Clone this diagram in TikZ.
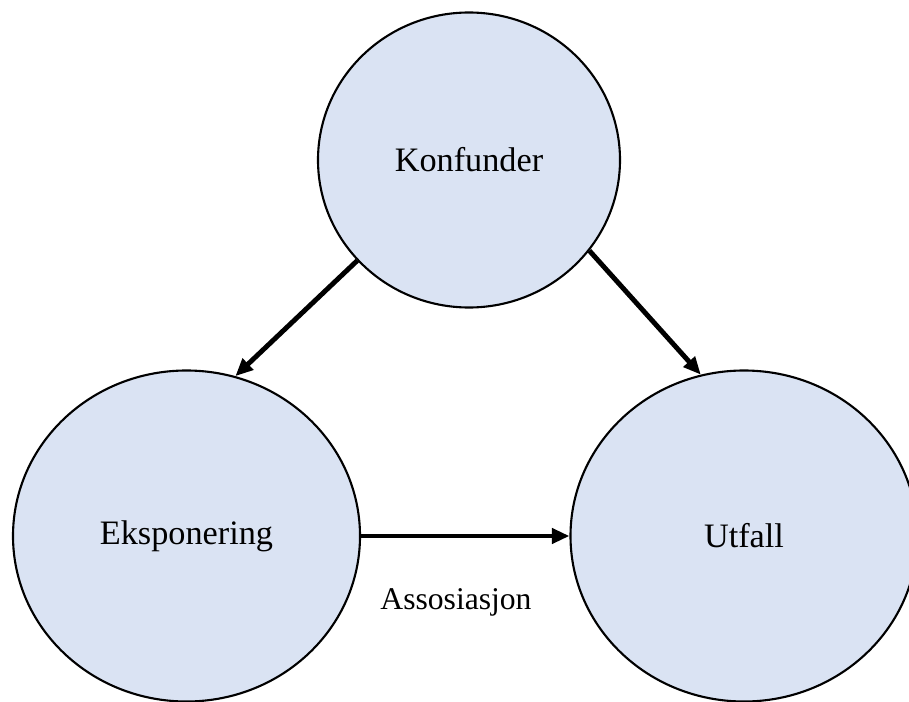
\documentclass[tikz,border=0pt]{standalone}
\usepackage{fontspec}
\setmainfont{Liberation Serif}
\usetikzlibrary{arrows.meta,shapes.geometric}
\definecolor{nodefill}{RGB}{218,227,243}

\begin{document}
\begin{tikzpicture}[
        x={(0.02cm,0cm)},
        y={(0cm,-0.02cm)},
        var/.style={ellipse, draw, fill=nodefill, line width=1.2pt, inner sep=0pt, font=\fontsize{19.5}{23}\selectfont},
        effect/.style={-{Triangle[length=10pt,width=8.5pt]}, line width=2.8pt},
        ]
        \useasboundingbox (0,0) rectangle (909,702);

        \node(konf)[var, minimum width=302*0.02cm, minimum height=295*0.02cm] at (469,160) {Konfunder};
        \node(eksp)[var, minimum width=347*0.02cm, minimum height=331*0.02cm] at (186.5,536) {Eksponering};
        \node(utf) [var, minimum width=347*0.02cm, minimum height=331*0.02cm] at (744,536) {Utfall};
        \node(assoc)[font=\fontsize{18}{21}\selectfont] at (456,602) {Assosiasjon};

        \draw[effect](konf.222)--(eksp.73);
        \draw[effect](konf.323)--(utf.105);
        \draw[effect](eksp.east)--(utf.west);

      \end{tikzpicture}
\end{document}
